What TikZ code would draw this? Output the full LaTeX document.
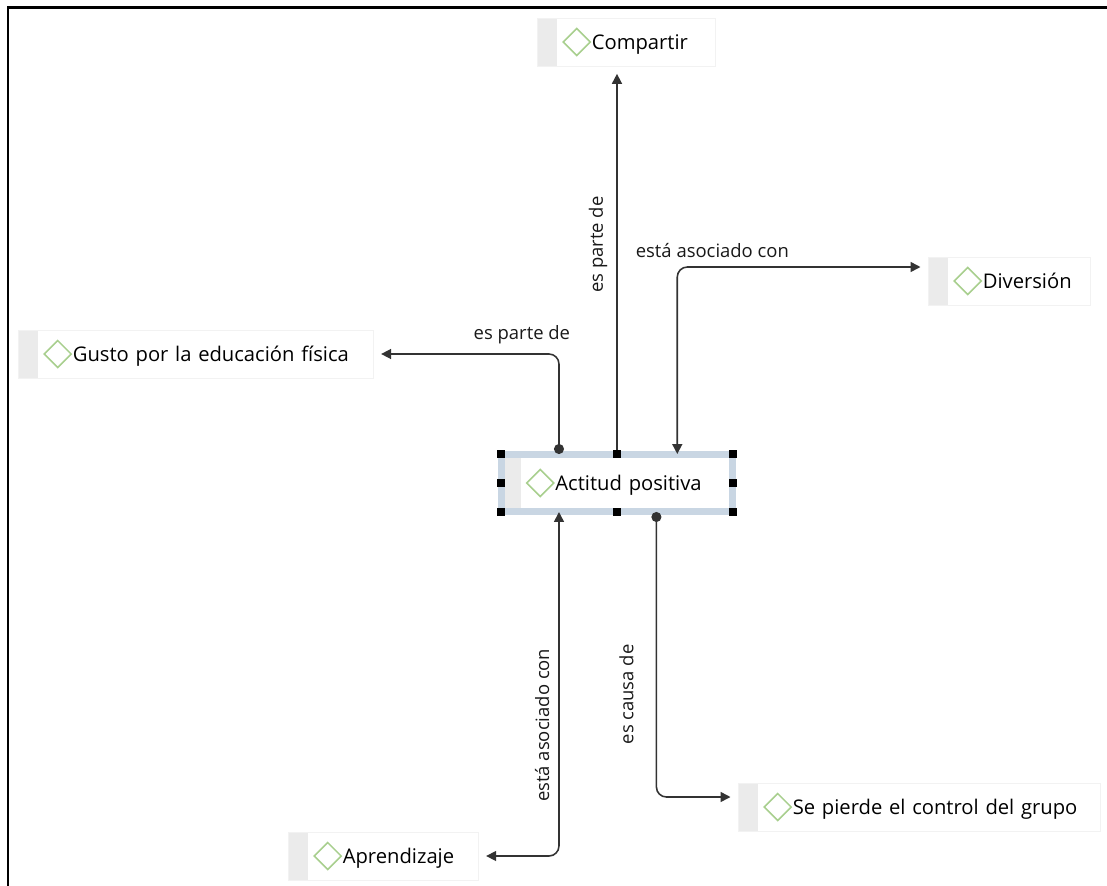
\documentclass[tikz,border=0pt]{standalone}
\usepackage{fontspec}
\setmainfont{Open Sans}
\usetikzlibrary{arrows.meta,calc}

\definecolor{linkgray}{HTML}{333333}
\definecolor{gemgreen}{HTML}{A8CF8E}
\definecolor{stripgray}{HTML}{EBEBEB}
\definecolor{selblue}{HTML}{C9D6E3}

% diamond in front of every concept, label kept on one line
\newcommand{\gem}[1]{\mbox{\tikz[baseline=-0.65ex,x=1cm,y=1cm]\draw[gemgreen,line width=0.9pt] (0,0.27)--(0.27,0)--(0,-0.27)--(-0.27,0)--cycle;\hspace{0.5pt}#1}}

\begin{document}
\begin{tikzpicture}[x=0.02cm,y=-0.02cm]
\tikzset{concept/.style={draw=black!5, fill=white, anchor=west, align=left, inner xsep=0.5cm, minimum height=0.96cm, text=black, font=\fontsize{11.5}{13}\selectfont,
  path picture={\fill[stripgray] (path picture bounding box.north west) rectangle ([xshift=0.4cm]path picture bounding box.south west);}}}
\tikzset{link/.style={draw=linkgray, line width=0.9pt, rounded corners=0.2cm, shorten >=0.15cm}}
\tikzset{rel/.style={font=\fontsize{10.5}{12}\selectfont, text=black!90, inner sep=1pt, outer ysep=4.5pt, anchor=south}}
\tikzset{tip/.tip={Triangle[length=0.2cm,width=0.2cm]}, dot/.tip={Circle[length=0.2cm]}}

\useasboundingbox (0,0) rectangle (1107,886);
\draw[line width=0.06cm] (8,886) -- (8,7) -- (1107,7);

% concepts
\node[concept, text width=2.56cm] (compartir) at (537,42) {\gem{Compartir}};
\node[concept, text width=6.1cm] (gusto) at (18,354) {\gem{Gusto por la educación física}};
\node[concept, text width=2.24cm] (diversion) at (928,281) {\gem{Diversión}};
\node[concept, text width=6.24cm] (pierde) at (738,807) {\gem{Se pierde el control del grupo}};
\node[concept, text width=2.8cm] (aprendizaje) at (288,856) {\gem{Aprendizaje}};
\node[concept, draw=selblue, line width=0.14cm, outer sep=0pt, text width=3.64cm, minimum height=1.16cm] (actitud) at (501,483) {\gem{Actitud positiva}};

% relations
\draw[link, -tip] (actitud.north) -- (actitud.north |- compartir.south)
  node[rel, rotate=90, pos=0.54] {es parte de};
\draw[link, dot-tip] ($(actitud.north west)!0.25!(actitud.north east)$) |- (gusto.east)
  node[rel, pos=0.6] {es parte de};
\draw[link, tip-tip] ($(actitud.north west)!0.76!(actitud.north east)$) |- ([yshift=0.28cm]diversion.west)
  node[rel, pos=0.57] {está asociado con};
\draw[link, tip-tip] ($(actitud.south west)!0.25!(actitud.south east)$) |- (aprendizaje.east)
  node[rel, rotate=90, pos=0.31] {está asociado con};
\draw[link, dot-tip] ($(actitud.south west)!0.67!(actitud.south east)$) |- ([yshift=0.2cm]pierde.west)
  node[rel, rotate=90, pos=0.32, outer ysep=12pt] {es causa de};

% selection handles
\foreach \a in {north west,north,north east,east,south east,south,south west,west}
  \fill[shift={(actitud.\a)}] (-4,-4) rectangle (4,4);
\end{tikzpicture}
\end{document}
